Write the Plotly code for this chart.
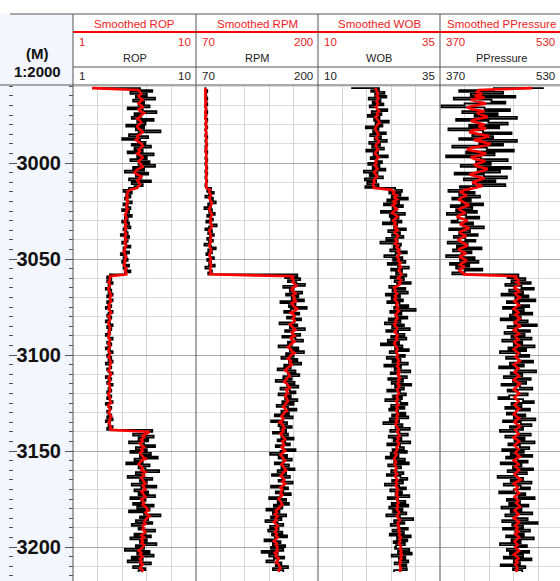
import plotly.graph_objects as go

# ---------------- data (depth in metres, one sample per metre) ----------------
DEPTH_TOP = 2961
DEPTH_STEP = 1

ROP_RAW = [
    2.4, 5.9, 6.8, 5.2, 6.4, 5.6, 7.0, 5.4, 6.2, 5.8,
    6.6, 5.0, 6.1, 7.1, 5.5, 6.0, 5.3, 6.9, 5.7, 6.3,
    4.9, 6.2, 5.6, 7.4, 5.8, 5.1, 6.5, 4.6, 5.9, 6.3,
    5.3, 6.7, 5.5, 6.1, 5.0, 6.9, 5.7, 6.4, 5.2, 6.6,
    5.8, 7.0, 5.4, 6.2, 4.8, 6.5, 5.6, 6.0, 5.1, 6.7,
    5.3, 6.1, 5.5, 5.1, 4.7, 5.3, 4.9, 5.2, 4.8, 5.0,
    5.3, 4.7, 5.0, 5.2, 4.6, 5.1, 4.9, 5.3, 4.8, 5.0,
    4.6, 5.1, 4.8, 5.2, 4.7, 4.9, 5.0, 4.5, 5.1, 4.8,
    5.0, 4.6, 4.9, 5.2, 4.7, 4.8, 5.1, 4.5, 4.9, 4.7,
    5.0, 4.6, 4.8, 5.1, 4.7, 4.9, 5.2, 4.8, 3.7, 3.5,
    3.8, 3.5, 3.9, 3.6, 3.7, 3.4, 3.8, 3.6, 3.9, 3.5,
    3.7, 3.9, 3.5, 3.6, 3.8, 3.4, 3.7, 3.9, 3.6, 3.5,
    3.8, 3.6, 3.4, 3.7, 3.9, 3.5, 3.8, 3.6, 3.7, 3.4,
    3.6, 3.9, 3.7, 3.5, 3.8, 3.6, 3.4, 3.7, 3.9, 3.6,
    3.5, 3.8, 3.6, 3.9, 3.4, 3.7, 3.8, 3.5, 3.6, 3.9,
    3.7, 3.4, 3.8, 3.6, 3.5, 3.9, 3.7, 3.6, 3.8, 3.5,
    3.6, 3.8, 3.5, 3.7, 3.9, 3.4, 3.6, 3.8, 3.7, 3.5,
    3.6, 3.8, 3.5, 3.9, 3.4, 3.7, 3.6, 3.9, 3.5, 6.8,
    6.3, 5.4, 6.9, 5.8, 6.5, 5.1, 6.2, 7.0, 5.6, 6.4,
    5.2, 6.7, 5.9, 7.2, 5.5, 6.1, 4.9, 6.6, 5.8, 6.3,
    7.3, 5.6, 6.2, 5.0, 6.8, 5.9, 6.4, 5.3, 7.1, 6.0,
    5.5, 6.5, 5.8, 7.0, 5.2, 6.3, 6.0, 5.4, 6.9, 5.7,
    6.6, 5.1, 6.2, 7.4, 5.9, 6.5, 5.6, 6.8, 5.3, 6.1,
    5.8, 7.0, 6.3, 5.5, 6.7, 5.2, 6.4, 5.9, 7.1, 5.6,
    6.2, 4.8, 6.6, 5.7, 6.9, 5.3, 6.1, 5.0, 6.7, 5.9,
    5.4, 6.3, 5.8,
]
ROP_SMOOTH = [
    2.4, 5.8, 5.9, 6.0, 5.8, 5.9, 6.1, 5.9, 5.8, 6.0,
    6.1, 5.8, 5.9, 6.2, 6.0, 5.9, 5.7, 5.9, 6.0, 5.8,
    5.7, 5.8, 6.0, 6.1, 5.9, 5.7, 5.8, 5.6, 5.8, 6.0,
    6.1, 6.0, 5.8, 5.9, 5.7, 5.9, 6.1, 6.0, 5.8, 5.9,
    6.0, 6.1, 5.8, 5.6, 5.5, 5.7, 6.0, 5.9, 5.7, 5.8,
    5.9, 5.8, 5.7, 5.2, 5.0, 5.0, 4.9, 5.0, 4.9, 5.0,
    5.0, 4.9, 4.9, 5.0, 4.9, 4.9, 4.8, 4.9, 4.9, 4.8,
    4.8, 4.9, 4.8, 4.9, 4.8, 4.8, 4.9, 4.8, 4.8, 4.9,
    4.8, 4.8, 4.9, 4.8, 4.8, 4.7, 4.8, 4.8, 4.9, 4.8,
    4.8, 4.8, 4.7, 4.8, 4.9, 4.8, 4.9, 4.9, 3.7, 3.7,
    3.7, 3.6, 3.7, 3.7, 3.6, 3.6, 3.7, 3.7, 3.8, 3.7,
    3.7, 3.8, 3.7, 3.6, 3.7, 3.6, 3.7, 3.8, 3.7, 3.6,
    3.7, 3.7, 3.6, 3.6, 3.7, 3.7, 3.7, 3.6, 3.7, 3.6,
    3.6, 3.7, 3.7, 3.6, 3.7, 3.7, 3.6, 3.6, 3.7, 3.7,
    3.6, 3.7, 3.7, 3.8, 3.7, 3.7, 3.7, 3.6, 3.7, 3.8,
    3.7, 3.6, 3.7, 3.7, 3.6, 3.7, 3.7, 3.7, 3.7, 3.6,
    3.6, 3.7, 3.7, 3.7, 3.8, 3.6, 3.6, 3.7, 3.7, 3.6,
    3.7, 3.8, 3.7, 3.7, 3.6, 3.7, 3.7, 3.8, 3.7, 6.6,
    6.4, 6.1, 6.2, 6.0, 6.1, 5.9, 6.0, 6.2, 6.0, 6.1,
    5.9, 6.0, 6.1, 6.3, 6.0, 5.9, 5.8, 6.0, 6.1, 6.0,
    6.3, 6.1, 6.2, 6.0, 6.1, 6.2, 6.3, 6.1, 6.2, 6.3,
    6.0, 6.1, 6.2, 6.3, 6.0, 6.1, 6.2, 6.1, 6.3, 6.4,
    6.5, 6.3, 6.4, 6.6, 6.4, 6.3, 6.2, 6.3, 6.1, 6.2,
    6.1, 6.3, 6.2, 6.0, 6.2, 6.0, 6.1, 6.0, 6.2, 6.1,
    6.0, 5.8, 6.0, 5.9, 6.1, 5.9, 6.0, 5.9, 6.1, 6.0,
    5.9, 6.1, 6.0,
]

RPM_RAW = [
    81, 80, 82, 81, 80, 81, 82, 80, 81, 82,
    80, 81, 81, 82, 80, 81, 80, 82, 81, 80,
    81, 82, 80, 81, 81, 80, 82, 81, 80, 81,
    82, 80, 81, 80, 82, 81, 81, 80, 82, 81,
    80, 81, 82, 81, 80, 82, 81, 80, 81, 82,
    81, 80, 81, 86, 82, 89, 84, 80, 88, 85,
    91, 83, 86, 79, 87, 84, 90, 82, 85, 88,
    81, 86, 92, 84, 80, 87, 83, 89, 85, 82,
    88, 84, 79, 86, 91, 83, 87, 81, 85, 89,
    82, 86, 84, 90, 80, 85, 87, 83, 178, 165,
    181, 168, 177, 186, 163, 174, 170, 183, 166, 179,
    172, 185, 160, 176, 169, 188, 171, 164, 180, 174,
    167, 182, 175, 159, 178, 170, 186, 165, 173, 181,
    162, 176, 184, 168, 172, 158, 179, 170, 185, 166,
    174, 161, 178, 169, 182, 164, 171, 157, 176, 168,
    180, 163, 172, 155, 175, 167, 179, 160, 170, 176,
    158, 171, 165, 178, 162, 174, 156, 168, 177, 161,
    169, 154, 173, 163, 150, 167, 158, 172, 160, 166,
    152, 168, 161, 174, 157, 165, 170, 155, 163, 176,
    160, 149, 167, 158, 172, 163, 154, 169, 161, 175,
    157, 166, 151, 170, 162, 158, 173, 164, 150, 168,
    163, 155, 171, 160, 148, 166, 157, 169, 153, 162,
    145, 159, 152, 166, 150, 161, 144, 157, 163, 149,
    158, 147, 162, 151, 167, 154, 143, 160, 152, 165,
    150, 163, 140, 157, 148, 164, 153, 145, 161, 155,
    168, 152, 163,
]
RPM_SMOOTH = [
    80, 80, 80, 80, 80, 80, 80, 81, 80, 80,
    80, 81, 80, 80, 81, 80, 80, 81, 81, 80,
    81, 81, 80, 81, 81, 80, 81, 81, 81, 81,
    81, 81, 81, 80, 81, 81, 81, 81, 81, 81,
    81, 81, 81, 81, 81, 81, 81, 81, 81, 81,
    81, 81, 81, 85, 84, 85, 86, 84, 85, 86,
    87, 86, 85, 84, 85, 86, 87, 86, 85, 86,
    85, 86, 87, 86, 84, 85, 85, 86, 86, 85,
    86, 85, 84, 85, 86, 86, 85, 84, 85, 86,
    85, 85, 86, 86, 85, 85, 86, 85, 174, 172,
    174, 173, 175, 177, 173, 172, 174, 176, 173, 175,
    174, 177, 172, 173, 175, 178, 175, 171, 174, 175,
    173, 175, 174, 170, 172, 174, 176, 172, 173, 175,
    171, 172, 175, 172, 170, 168, 171, 172, 175, 171,
    170, 168, 171, 170, 172, 169, 167, 165, 168, 169,
    170, 167, 166, 164, 167, 168, 170, 166, 167, 168,
    165, 166, 167, 168, 166, 165, 163, 165, 167, 164,
    163, 161, 163, 162, 159, 162, 163, 164, 162, 163,
    160, 162, 163, 165, 162, 163, 164, 161, 163, 165,
    162, 160, 162, 163, 165, 163, 161, 163, 164, 166,
    163, 162, 160, 163, 164, 162, 165, 163, 160, 162,
    161, 160, 162, 160, 158, 160, 161, 162, 159, 158,
    155, 156, 154, 157, 155, 156, 153, 155, 157, 155,
    156, 154, 156, 155, 157, 155, 153, 156, 155, 157,
    156, 157, 154, 156, 155, 158, 157, 155, 158, 159,
    160, 158, 159,
]

WOB_RAW = [
    16.8, 22.5, 20.9, 23.6, 21.7, 24.0, 20.4, 22.8, 21.2, 23.4,
    20.6, 22.1, 24.2, 21.0, 23.0, 20.2, 22.6, 21.5, 24.5, 21.8,
    23.2, 19.8, 22.4, 21.3, 23.9, 20.7, 22.9, 21.6, 24.1, 20.5,
    22.7, 21.1, 23.5, 19.9, 22.3, 21.4, 24.3, 20.8, 22.0, 23.1,
    20.3, 22.6, 21.2, 23.8, 19.4, 22.2, 20.6, 23.3, 19.6, 21.9,
    20.1, 22.4, 19.7, 25.8, 27.2, 24.6, 26.9, 25.1, 28.4, 24.2,
    26.6, 23.5, 27.4, 25.3, 26.1, 22.9, 27.8, 24.7, 26.5, 25.0,
    27.1, 23.3, 26.2, 25.6, 28.0, 24.4, 26.8, 25.2, 27.5, 24.0,
    26.3, 22.8, 27.0, 25.5, 26.7, 24.8, 28.2, 25.9, 23.6, 27.3,
    25.4, 27.9, 24.3, 26.4, 28.6, 25.0, 27.2, 26.0, 28.1, 24.9,
    27.6, 25.7, 29.0, 26.2, 24.6, 27.9, 25.3, 28.4, 23.9, 26.8,
    25.1, 27.4, 24.2, 26.7, 28.5, 25.6, 30.0, 24.8, 27.1, 25.9,
    28.3, 24.5, 26.9, 23.7, 27.6, 25.2, 28.8, 24.0, 26.4, 27.7,
    25.0, 28.1, 24.3, 26.6, 22.9, 27.3, 25.8, 28.6, 24.7, 26.2,
    27.8, 24.1, 26.9, 25.3, 28.4, 23.6, 27.0, 25.7, 28.9, 24.9,
    26.5, 28.2, 24.4, 27.4, 25.1, 29.1, 25.8, 27.6, 24.2, 26.8,
    28.0, 25.4, 27.2, 23.8, 26.9, 28.3, 25.0, 27.7, 24.6, 26.4,
    27.9, 25.2, 28.5, 24.7, 26.6, 23.4, 27.3, 25.9, 28.8, 24.8,
    26.7, 28.4, 24.5, 27.1, 25.5, 28.9, 24.2, 26.8, 27.6, 25.3,
    28.2, 24.9, 26.5, 23.9, 27.8, 25.6, 28.6, 24.4, 27.0, 26.1,
    25.0, 27.5, 24.1, 26.9, 28.3, 25.2, 27.4, 23.7, 26.6, 28.0,
    24.8, 27.2, 25.9, 28.7, 24.3, 26.4, 27.9, 25.1, 28.5, 24.6,
    27.3, 25.4, 28.1, 24.0, 26.8, 29.5, 25.6, 27.7, 24.9, 26.5,
    28.4, 25.3, 27.6, 24.7, 29.0, 26.2, 28.3, 25.5, 27.8, 26.0,
    25.8, 28.7, 26.4, 29.2, 25.1, 27.9, 26.6, 28.5, 25.7, 28.1,
    26.9, 28.2, 25.6,
]
WOB_SMOOTH = [
    21.8, 21.9, 22.1, 22.3, 22.0, 22.4, 22.2, 22.0, 22.3, 22.1,
    21.9, 22.2, 22.5, 22.1, 22.3, 21.8, 22.0, 22.4, 22.6, 22.2,
    22.0, 21.7, 21.9, 22.2, 22.4, 22.1, 21.9, 22.3, 22.5, 22.0,
    21.8, 22.0, 22.3, 21.9, 21.7, 22.0, 22.4, 22.1, 21.8, 22.0,
    21.6, 21.9, 22.2, 21.8, 21.5, 21.9, 22.1, 21.7, 21.4, 21.6,
    21.3, 21.5, 21.4, 25.0, 25.6, 25.4, 26.1, 25.7, 26.2, 25.5,
    25.9, 25.3, 25.8, 26.2, 25.6, 25.2, 25.9, 26.3, 25.8, 25.4,
    25.9, 25.6, 26.1, 25.8, 26.3, 25.7, 26.0, 26.4, 26.1, 25.9,
    26.2, 25.8, 26.4, 26.1, 26.6, 26.3, 26.8, 26.5, 26.2, 26.6,
    26.4, 26.9, 26.6, 27.0, 26.8, 26.5, 26.9, 27.1, 26.8, 26.4,
    27.0, 26.6, 26.9, 26.3, 25.6, 25.9, 25.8, 26.2, 25.8, 26.0,
    25.7, 26.1, 26.3, 26.0, 26.4, 26.1, 26.6, 26.2, 25.9, 26.1,
    26.3, 25.9, 26.0, 25.6, 25.9, 26.2, 26.0, 25.7, 26.1, 26.3,
    26.0, 26.2, 25.8, 25.6, 25.9, 26.1, 26.3, 26.0, 26.2, 26.4,
    26.1, 26.4, 26.6, 26.3, 26.5, 26.2, 26.6, 26.4, 26.7, 26.3,
    26.5, 26.8, 26.4, 26.6, 26.3, 26.7, 26.5, 26.2, 26.4, 26.6,
    26.3, 26.1, 26.4, 26.0, 26.2, 26.5, 26.1, 26.3, 26.0, 26.2,
    26.4, 26.1, 26.3, 26.0, 26.2, 25.9, 26.1, 26.3, 26.5, 26.2,
    26.4, 26.7, 26.3, 26.5, 26.2, 26.6, 26.4, 26.1, 26.3, 26.0,
    25.8, 26.1, 25.9, 25.6, 25.8, 26.0, 25.7, 25.9, 26.1, 25.8,
    25.9, 26.2, 25.8, 26.0, 26.3, 26.0, 26.2, 25.9, 26.1, 26.4,
    26.1, 26.3, 26.0, 26.4, 26.1, 26.3, 26.5, 26.2, 26.4, 26.1,
    26.3, 26.6, 26.4, 26.2, 26.5, 26.8, 26.5, 26.3, 26.6, 26.4,
    26.7, 26.5, 26.8, 26.6, 27.0, 26.7, 26.9, 26.6, 26.8, 27.0,
    26.8, 27.1, 26.9, 27.2, 26.9, 27.1, 26.8, 27.0, 26.7, 26.9,
    27.0, 26.8, 26.9,
]

PP_RAW = [
    505, 440, 395, 452, 410, 468, 388, 437, 455, 402,
    372, 428, 461, 399, 445, 415, 470, 391, 433, 458,
    408, 447, 381, 426, 463, 412, 439, 395, 470, 421,
    452, 386, 431, 466, 404, 441, 378, 423, 458, 417,
    436, 397, 462, 419, 448, 389, 427, 457, 401, 442,
    413, 455, 396, 408, 381, 415, 395, 422, 386, 410,
    398, 426, 384, 412, 391, 418, 379, 404, 421, 393,
    385, 413, 400, 427, 382, 409, 395, 419, 388, 403,
    416, 380, 406, 392, 424, 387, 411, 398, 378, 415,
    396, 420, 383, 408, 391, 425, 402, 386, 472, 458,
    481, 463, 488, 455, 476, 492, 460, 478, 450, 485,
    468, 494, 457, 473, 486, 452, 479, 465, 490, 461,
    475, 449, 484, 467, 496, 458, 471, 487, 454, 480,
    463, 489, 451, 477, 466, 493, 459, 482, 448, 474,
    486, 456, 472, 491, 461, 479, 447, 468, 495, 462,
    477, 453, 488, 465, 482, 450, 474, 490, 458, 471,
    484, 460, 446, 478, 492, 463, 476, 455, 487, 469,
    457, 481, 466, 494, 452, 475, 489, 461, 478, 448,
    472, 488, 455, 480, 467, 493, 459, 474, 486, 451,
    479, 462, 490, 456, 471, 484, 449, 476, 465, 491,
    458, 483, 470, 445, 478, 462, 489, 453, 475, 487,
    466, 447, 481, 472, 493, 457, 474, 460, 485, 450,
    476, 462, 490, 455, 469, 484, 451, 497, 464, 478,
    452, 487, 468, 479, 456, 492, 463, 475, 448, 483,
    470, 457, 486, 461, 478, 453, 489, 466, 474, 449,
    481, 465, 477,
]
PP_SMOOTH = [
    490, 420, 418, 425, 415, 428, 410, 422, 430, 416,
    405, 412, 428, 418, 425, 432, 420, 410, 418, 428,
    420, 430, 412, 408, 422, 434, 426, 414, 425, 436,
    428, 412, 405, 418, 430, 424, 410, 416, 429, 422,
    414, 420, 432, 426, 415, 408, 418, 428, 420, 412,
    418, 425, 415, 402, 396, 400, 405, 398, 394, 399,
    404, 408, 400, 395, 398, 403, 396, 392, 399, 406,
    400, 396, 403, 408, 401, 395, 399, 404, 398, 393,
    397, 402, 406, 400, 394, 398, 404, 399, 395, 401,
    405, 399, 396, 402, 398, 394, 400, 401, 470, 468,
    472, 469, 474, 470, 466, 471, 473, 468, 470, 474,
    471, 467, 470, 473, 469, 466, 470, 472, 468, 471,
    474, 470, 467, 471, 475, 469, 466, 470, 473, 468,
    470, 472, 467, 469, 473, 470, 466, 469, 472, 470,
    468, 471, 474, 470, 466, 469, 472, 469, 467, 471,
    473, 469, 466, 470, 474, 471, 468, 466, 470, 473,
    470, 467, 469, 472, 470, 467, 469, 473, 470, 468,
    466, 470, 473, 469, 467, 470, 474, 471, 468, 470,
    472, 469, 466, 470, 473, 470, 467, 469, 472, 470,
    468, 471, 474, 469, 466, 470, 472, 468, 470, 473,
    470, 467, 469, 472, 475, 470, 466, 469, 471, 468,
    470, 473, 469, 467, 470, 472, 469, 471, 474, 470,
    467, 470, 472, 469, 466, 470, 473, 470, 468, 471,
    469, 472, 468, 470, 473, 470, 467, 469, 471, 468,
    470, 473, 469, 466, 470, 472, 469, 471, 468, 470,
    471, 469, 470,
]

CURVE_NAMES = ["ROP", "RPM", "WOB", "PPressure"]
SCALE_MIN = [1, 70, 10, 370]
SCALE_MAX = [10, 200, 35, 530]
DEPTH_LABEL_STEP = 50

# ---------------- layout constants ----------------
W, H = 560, 581
def px(x):
    return x / W
def py(y):
    return 1 - y / H

TRACK_EDGES = [73, 196, 318, 440, 563]  # pixel borders of the four tracks
PLOT_TOP = 85
PX_PER_M = 1.92
DEPTH_AT_TOP = 3000 - (163 - PLOT_TOP) / PX_PER_M
DEPTH_AT_BOTTOM = 3000 + (H - 163) / PX_PER_M

RED = "#ff0000"
TXT_RED = "#ee1c24"
BORDER = "#555555"
FONT = "Liberation Sans"

raw_series = [ROP_RAW, RPM_RAW, WOB_RAW, PP_RAW]
smooth_series = [ROP_SMOOTH, RPM_SMOOTH, WOB_SMOOTH, PP_SMOOTH]
n = min(len(s) for s in raw_series + smooth_series)
DEPTH = [DEPTH_TOP + i * DEPTH_STEP for i in range(n)]

fig = go.Figure()
for k in range(4):
    xa = "x" if k == 0 else f"x{k+1}"
    fig.add_trace(go.Scatter(x=raw_series[k][:n], y=DEPTH, xaxis=xa, yaxis="y",
                             mode="lines", line=dict(color="black", width=1.8, shape="hv"),
                             showlegend=False, hoverinfo="skip"))
    fig.add_trace(go.Scatter(x=smooth_series[k][:n], y=DEPTH, xaxis=xa, yaxis="y",
                             mode="lines", line=dict(color=RED, width=2.6),
                             showlegend=False, hoverinfo="skip"))

# dummy traces so the depth-track tick axes are realised
fig.add_trace(go.Scatter(x=[None], y=[None], xaxis="x", yaxis="y2", showlegend=False, hoverinfo="skip"))
fig.add_trace(go.Scatter(x=[None], y=[None], xaxis="x", yaxis="y3", showlegend=False, hoverinfo="skip"))

yrange = [DEPTH_AT_BOTTOM, DEPTH_AT_TOP]
ydom = [0, py(PLOT_TOP)]

layout = dict(
    width=W, height=H, margin=dict(l=0, r=0, t=0, b=0),
    paper_bgcolor="white", plot_bgcolor="rgba(0,0,0,0)",
    showlegend=False,
    yaxis=dict(domain=ydom, range=yrange, anchor="x", showticklabels=False, ticks="",
               dtick=DEPTH_LABEL_STEP, tick0=0, showgrid=True, gridcolor="#a9a9a9", gridwidth=1,
               minor=dict(dtick=10, tick0=0, showgrid=True, gridcolor="#dcdcdc", gridwidth=1),
               zeroline=False, showline=False, fixedrange=True),
    yaxis2=dict(domain=ydom, range=yrange, overlaying="y", anchor="free", position=px(73), side="left",
                ticks="outside", ticklen=8, tickwidth=1, tickcolor=BORDER,
                dtick=DEPTH_LABEL_STEP, tick0=0, showticklabels=True,
                tickfont=dict(family=FONT, size=20, color="#111111", weight="bold"),
                minor=dict(dtick=5, tick0=0, ticks="outside", ticklen=4, tickcolor=BORDER, showgrid=False),
                showgrid=False, zeroline=False, showline=False, fixedrange=True),
    yaxis3=dict(domain=ydom, range=yrange, overlaying="y", anchor="free", position=px(8), side="left",
                ticks="inside", ticklen=8, tickwidth=1, tickcolor=BORDER,
                dtick=DEPTH_LABEL_STEP, tick0=0, showticklabels=False,
                minor=dict(dtick=5, tick0=0, ticks="inside", ticklen=4, tickcolor=BORDER, showgrid=False),
                showgrid=False, zeroline=False, showline=False, fixedrange=True),
)

for k in range(4):
    lo, hi = SCALE_MIN[k], SCALE_MAX[k]
    x0, x1 = TRACK_EDGES[k], TRACK_EDGES[k + 1]
    span = hi - lo
    grid = [lo + span * j / 5 for j in range(1, 5)]
    right = min(x1, W)
    rng_hi = lo + span * (right - x0) / (x1 - x0)
    key = "xaxis" if k == 0 else f"xaxis{k+1}"
    layout[key] = dict(domain=[px(x0), px(right)], range=[lo, rng_hi], anchor="y",
                       tickvals=grid, showticklabels=False, ticks="",
                       showgrid=True, gridcolor="#d6d6d6", gridwidth=1.3,
                       zeroline=False, showline=False, fixedrange=True)

fig.update_layout(**layout)

shapes = []
# depth track background
shapes.append(dict(type="rect", xref="paper", yref="paper", x0=0, x1=px(73), y0=0, y1=py(14),
                   fillcolor="#f3f6fd", line=dict(width=0), layer="below"))
# horizontal header lines
shapes.append(dict(type="line", xref="paper", yref="paper", x0=px(10), x1=1, y0=py(14), y1=py(14),
                   line=dict(color=BORDER, width=1)))
shapes.append(dict(type="line", xref="paper", yref="paper", x0=px(73), x1=1, y0=py(67), y1=py(67),
                   line=dict(color=BORDER, width=1)))
shapes.append(dict(type="line", xref="paper", yref="paper", x0=0, x1=1, y0=py(PLOT_TOP), y1=py(PLOT_TOP),
                   line=dict(color=BORDER, width=1)))
shapes.append(dict(type="line", xref="paper", yref="paper", x0=px(73), x1=1, y0=py(32), y1=py(32),
                   line=dict(color=RED, width=2)))
# vertical track borders
for xb in TRACK_EDGES[:4]:
    shapes.append(dict(type="line", xref="paper", yref="paper", x0=px(xb), x1=px(xb), y0=0, y1=py(14),
                       line=dict(color=BORDER, width=1)))

def note(text, x, y, size, color, xanchor="center"):
    return dict(text=text, x=px(x), y=py(y), xref="paper", yref="paper", showarrow=False,
                xanchor=xanchor, yanchor="middle", font=dict(family=FONT, size=size, color=color))

ann = []
ann.append(note("<b>(M)</b>", 37, 53, 15, "#111111"))
ann.append(note("<b>1:2000</b>", 37, 71, 15, "#111111"))
for k in range(4):
    x0, x1 = TRACK_EDGES[k], min(TRACK_EDGES[k + 1], W)
    cx = (TRACK_EDGES[k] + TRACK_EDGES[k + 1]) / 2
    ann.append(note("Smoothed " + CURVE_NAMES[k], cx, 24, 11.5, TXT_RED))
    ann.append(note(CURVE_NAMES[k], cx, 58, 11, "#222222"))
    for yy, col in ((42, TXT_RED), (76, "#222222")):
        ann.append(note(str(SCALE_MIN[k]), x0 + 4, yy, 11.5, col, "left"))
        ann.append(note(str(SCALE_MAX[k]), x1 - 3, yy, 11.5, col, "right"))

fig.update_layout(shapes=shapes, annotations=ann)
fig.write_html("out.html")
